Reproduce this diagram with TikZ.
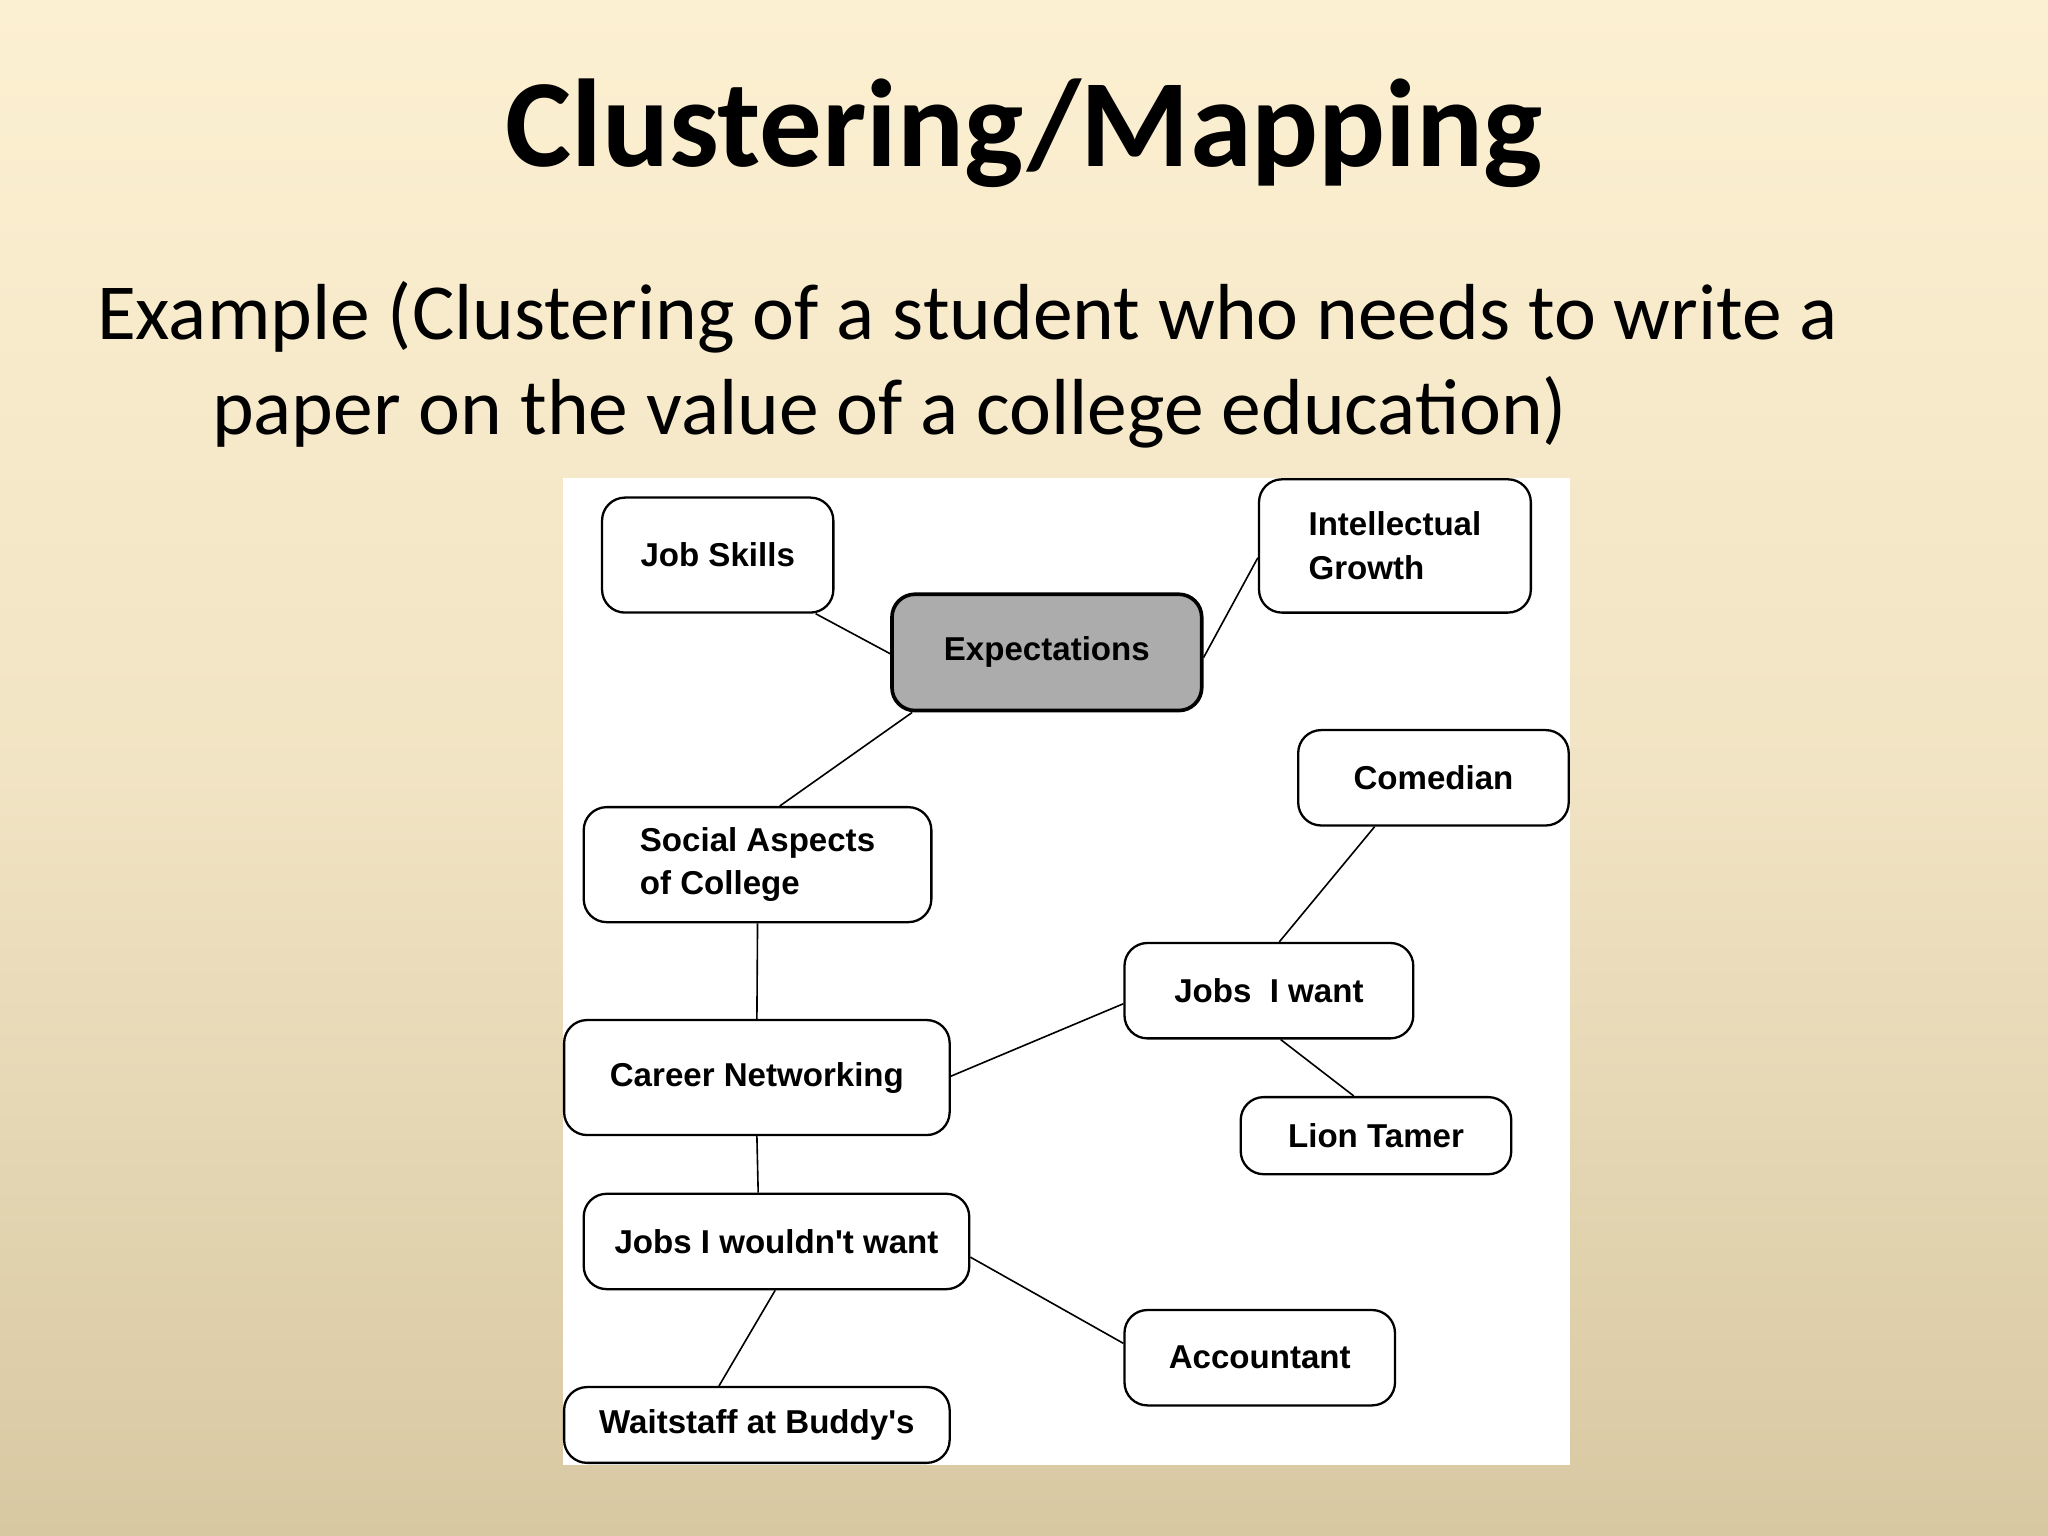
\documentclass[tikz,border=0pt]{standalone}
\usepackage{fontspec}
\setmainfont{Carlito}
\newfontfamily\boxfont{Liberation Sans}
\usetikzlibrary{calc}
\definecolor{bgtop}{HTML}{FCF0D2}
\definecolor{bgbot}{HTML}{D8C8A2}
\tikzset{
 bub/.style={draw=black,line width=0.5pt,rounded corners=5pt,fill=white,inner sep=0pt,font=\boxfont\bfseries\fontsize{7.2}{9.5}\selectfont,align=left},
 con/.style={draw=black,line width=0.35pt}
}
\begin{document}
\begin{tikzpicture}[x=0.01cm,y=-0.01cm]
\shade[top color=bgtop,bottom color=bgbot,middle color=bgtop!70!bgbot] (0,0) rectangle (1568,1176);
\useasboundingbox (0,0) rectangle (1568,1176);
\node[font=\bfseries\fontsize{27.2}{33}\selectfont] (title) at (784,102) {Clustering/Mapping};
\node[anchor=west,font=\fontsize{17.3}{21}\selectfont] (l1) at (62,243) {Example (Clustering of a student who needs to write a};
\node[anchor=west,font=\fontsize{17.3}{21}\selectfont] (l2) at (150,316) {paper on the value of a college education)};
\fill[white] (431,366) rectangle (1202,1122);
\node[bub,minimum width=1.77cm,minimum height=0.88cm] (js) at (549.5,425) {Job Skills};
\node[bub,minimum width=2.08cm,minimum height=1.02cm] (ig) at (1068,418) {Intellectual\\ Growth};
\node[bub,fill=gray!65,minimum width=2.37cm,minimum height=0.89cm,line width=0.8pt] (ex) at (801.5,499.5) {Expectations};
\node[bub,minimum width=2.07cm,minimum height=0.73cm] (co) at (1097.5,595.5) {Comedian};
\node[bub,minimum width=2.66cm,minimum height=0.88cm] (sa) at (580,662) {Social Aspects\\ of College};
\node[bub,minimum width=2.21cm,minimum height=0.73cm] (jw) at (971.5,758.5) {Jobs \ I want};
\node[bub,minimum width=2.95cm,minimum height=0.88cm] (cn) at (579.5,825) {Career Networking};
\node[bub,minimum width=2.07cm,minimum height=0.59cm] (lt) at (1053.5,869.5) {Lion Tamer};
\node[bub,minimum width=2.95cm,minimum height=0.73cm] (jn) at (594.5,950.5) {Jobs I wouldn't want};
\node[bub,minimum width=2.07cm,minimum height=0.73cm] (ac) at (964.5,1039.5) {Accountant};
\node[bub,minimum width=2.95cm,minimum height=0.58cm] (wb) at (579.5,1091) {Waitstaff at Buddy's};
\draw[con] ([xshift=0.75cm]js.south) -- ([yshift=-0.01cm]ex.west);
\draw[con] ([yshift=-0.04cm]ex.east) -- ([yshift=-0.09cm]ig.west);
\draw[con] ([xshift=-1.03cm]ex.south) -- ([xshift=0.17cm]sa.north);
\draw[con] (sa.south) -- (cn.north);
\draw[con] ([yshift=0.01cm]cn.east) -- ([yshift=-0.1cm]jw.west);
\draw[con] ([xshift=0.08cm]jw.north) -- ([xshift=-0.45cm]co.south);
\draw[con] ([xshift=0.09cm]jw.south) -- ([xshift=-0.17cm]lt.north);
\draw[con] (cn.south) -- ([xshift=-0.14cm]jn.north);
\draw[con] ([yshift=-0.12cm]jn.east) -- ([yshift=0.11cm]ac.west);
\draw[con] ([xshift=-0.01cm]jn.south) -- ([xshift=-0.29cm]wb.north);
\end{tikzpicture}
\end{document}
